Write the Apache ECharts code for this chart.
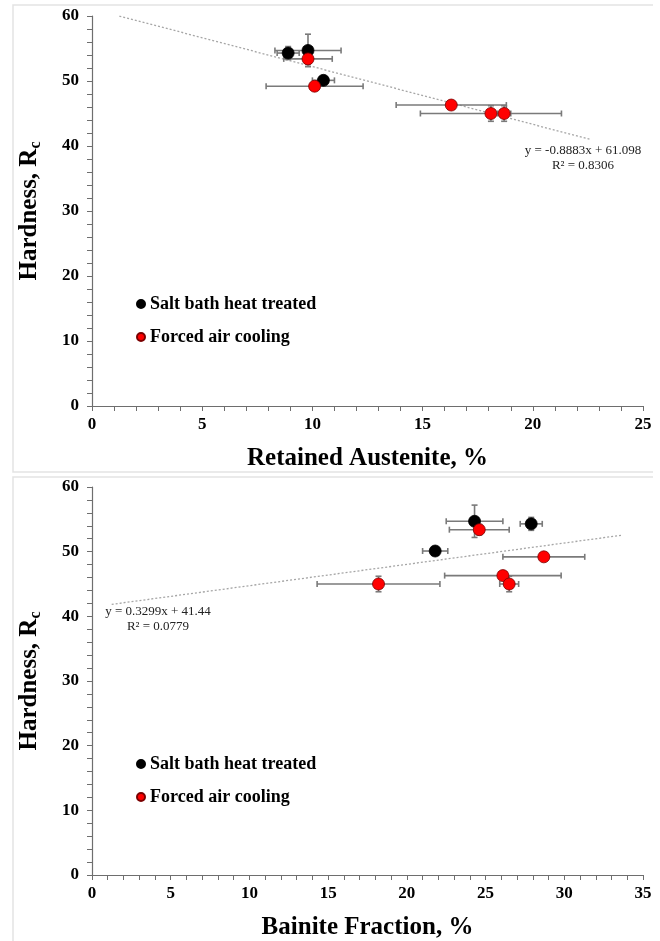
<!DOCTYPE html>
<html>
<head>
<meta charset="utf-8">
<title>Hardness vs retained austenite and bainite fraction</title>
<script src="https://cdn.jsdelivr.net/npm/echarts@6/dist/echarts.min.js"></script>
<style>
    html, body { margin: 0; padding: 0; background: #fff; }
    #chart { width: 660px; height: 941px; }
</style>
</head>
<body>
<div id="chart"></div>
<script>
// hardness (Rc) of each sample, shared by both panels
const hardnessSalt = [54.3, 54.7, 50.1];
const hardnessSaltErr = [1.0, 2.5, 0.5];
const hardnessAir = [53.4, 49.2, 46.3, 45.0, 45.0];
const hardnessAirErr = [0.8, 0.5, 0.5, 1.2, 1.2];

// retained austenite, %
const austeniteSalt = [8.9, 9.8, 10.5];
const austeniteSaltErr = [0.5, 1.5, 0.5];
const austeniteAir = [9.8, 10.1, 16.3, 18.1, 18.7];
const austeniteAirErr = [1.1, 2.2, 2.5, 3.2, 0.3];

// bainite fraction, %
const bainiteSalt = [27.9, 24.3, 21.8];
const bainiteSaltErr = [0.7, 1.8, 0.8];
const bainiteAir = [24.6, 28.7, 26.1, 18.2, 26.5];
const bainiteAirErr = [1.9, 2.6, 3.7, 3.9, 0.6];

// excel linear trendlines
const fitAustenite = { slope: -0.8883, intercept: 61.098, from: 1.24, to: 22.6, r2: '0.8306' };
const fitBainite = { slope: 0.3299, intercept: 41.44, from: 1.25, to: 33.6, r2: '0.0779' };

const hardnessTicks = [0, 10, 20, 30, 40, 50, 60];
const seriesNames = ['Salt bath heat treated', 'Forced air cooling'];

const FONT = '"Liberation Serif", "Times New Roman", serif';
const AXIS_COLOR = '#6e6e6e';
const ERR_COLOR = '#7a7a7a';

function points(xs, ys) {
    return xs.map((x, i) => [x, ys[i]]);
}
function errRows(xs, ys, xe, ye) {
    return xs.map((x, i) => [x, ys[i], xe[i], ye[i]]);
}
function fitLine(f) {
    return [f.from, f.to].map(x => [x, f.slope * x + f.intercept]);
}

function renderErr(params, api) {
    const x = api.value(0), y = api.value(1), xe = api.value(2), ye = api.value(3);
    const l = api.coord([x - xe, y]), r = api.coord([x + xe, y]);
    const t = api.coord([x, y + ye]), b = api.coord([x, y - ye]);
    const cap = 3;
    const style = { stroke: ERR_COLOR, lineWidth: 1.6 };
    const lines = [
        [l[0], l[1], r[0], r[1]],
        [l[0], l[1] - cap, l[0], l[1] + cap],
        [r[0], r[1] - cap, r[0], r[1] + cap],
        [t[0], t[1], b[0], b[1]],
        [t[0] - cap, t[1], t[0] + cap, t[1]],
        [b[0] - cap, b[1], b[0] + cap, b[1]]
    ];
    return {
        type: 'group',
        children: lines.map(p => ({
            type: 'line',
            shape: { x1: p[0], y1: p[1], x2: p[2], y2: p[3] },
            style: style
        }))
    };
}

function xAxisFor(idx, max, name) {
    return {
        type: 'value', gridIndex: idx, min: 0, max: max, interval: 5,
        name: name, nameLocation: 'middle', nameGap: 40,
        nameTextStyle: { fontFamily: FONT, fontWeight: 'bold', fontSize: 25, color: '#000' },
        axisLine: { lineStyle: { color: AXIS_COLOR, width: 1.2 } },
        axisTick: { length: 5, lineStyle: { color: AXIS_COLOR } },
        minorTick: { show: true, splitNumber: 5, length: 5, lineStyle: { color: AXIS_COLOR } },
        axisLabel: { fontFamily: FONT, fontWeight: 'bold', fontSize: 17, color: '#000', margin: 10 },
        splitLine: { show: false }
    };
}
function yAxisFor(idx) {
    return {
        type: 'value', gridIndex: idx, min: hardnessTicks[0], max: hardnessTicks[hardnessTicks.length - 1], interval: 10,
        name: '{n|Hardness, R}{s|c}', nameLocation: 'middle', nameGap: 48,
        nameTextStyle: {
            rich: {
                n: { fontFamily: FONT, fontWeight: 'bold', fontSize: 25, color: '#000' },
                s: { fontFamily: FONT, fontWeight: 'bold', fontSize: 16, color: '#000', padding: [12, 0, 0, 0] }
            }
        },
        axisLine: { show: true, lineStyle: { color: AXIS_COLOR, width: 1.2 } },
        axisTick: { length: 5, lineStyle: { color: AXIS_COLOR } },
        minorTick: { show: true, splitNumber: 5, length: 5, lineStyle: { color: AXIS_COLOR } },
        axisLabel: { fontFamily: FONT, fontWeight: 'bold', fontSize: 17, color: '#000', margin: 13 },
        splitLine: { show: false }
    };
}

function scatter(name, idx, data, color, border) {
    return {
        name: name, type: 'scatter', xAxisIndex: idx, yAxisIndex: idx, z: 5,
        symbolSize: 12, data: data,
        itemStyle: { color: color, borderColor: border, borderWidth: 0.8, opacity: 1 }
    };
}
function errSeries(idx, rows) {
    return {
        type: 'custom', xAxisIndex: idx, yAxisIndex: idx, z: 3, silent: true,
        renderItem: renderErr, data: rows, encode: { x: 0, y: 1 }
    };
}
function trend(idx, f) {
    return {
        type: 'line', xAxisIndex: idx, yAxisIndex: idx, z: 2, silent: true,
        symbol: 'none', data: fitLine(f),
        lineStyle: { type: [2, 2], color: '#a6a6a6', width: 1.3 }
    };
}
function legendFor(top) {
    return {
        data: seriesNames, orient: 'vertical', left: 131, top: top,
        icon: 'circle', itemWidth: 8, itemHeight: 8, itemGap: 15, selectedMode: false,
        textStyle: { fontFamily: FONT, fontWeight: 'bold', fontSize: 18, color: '#000' }
    };
}
function eqText(cx, cy, f) {
    const sign = f.slope < 0 ? '-' : '';
    const eq = 'y = ' + sign + Math.abs(f.slope) + 'x + ' + f.intercept;
    const st = { font: '13px ' + FONT, fill: '#222', align: 'center', verticalAlign: 'middle' };
    return [
        { type: 'text', x: cx, y: cy, silent: true, style: Object.assign({ text: eq }, st) },
        { type: 'text', x: cx, y: cy + 15, silent: true, style: Object.assign({ text: 'R\u00b2 = ' + f.r2 }, st) }
    ];
}

const chart = echarts.init(document.getElementById('chart'), null, { renderer: 'canvas' });

const option = {
    backgroundColor: '#fff',
    animation: false,
    grid: [
        { left: 92, top: 16, width: 551, height: 390 },
        { left: 92, top: 487, width: 551, height: 389 }
    ],
    xAxis: [
        xAxisFor(0, 25, 'Retained Austenite, %'),
        xAxisFor(1, 35, 'Bainite Fraction, %')
    ],
    yAxis: [yAxisFor(0), yAxisFor(1)],
    legend: [legendFor(290), legendFor(750)],
    graphic: [
        { type: 'polyline', silent: true, shape: { points: [[653, 5], [13, 5], [13, 472], [653, 472]] }, style: { stroke: '#e3e3e3', lineWidth: 1.5, fill: null } },
        { type: 'polyline', silent: true, shape: { points: [[653, 477], [13, 477], [13, 941]] }, style: { stroke: '#e3e3e3', lineWidth: 1.5, fill: null } }
    ].concat(eqText(583, 151, fitAustenite), eqText(158, 612, fitBainite)),
    series: [
        trend(0, fitAustenite),
        errSeries(0, errRows(austeniteSalt, hardnessSalt, austeniteSaltErr, hardnessSaltErr)),
        errSeries(0, errRows(austeniteAir, hardnessAir, austeniteAirErr, hardnessAirErr)),
        scatter(seriesNames[0], 0, points(austeniteSalt, hardnessSalt), '#000', '#000'),
        scatter(seriesNames[1], 0, points(austeniteAir, hardnessAir), '#ff0000', '#7a0000'),

        trend(1, fitBainite),
        errSeries(1, errRows(bainiteSalt, hardnessSalt, bainiteSaltErr, hardnessSaltErr)),
        errSeries(1, errRows(bainiteAir, hardnessAir, bainiteAirErr, hardnessAirErr)),
        scatter(seriesNames[0], 1, points(bainiteSalt, hardnessSalt), '#000', '#000'),
        scatter(seriesNames[1], 1, points(bainiteAir, hardnessAir), '#ff0000', '#7a0000')
    ]
};

chart.setOption(option);
window.addEventListener('resize', function () {
    chart.resize();
});
</script>
</body>
</html>
